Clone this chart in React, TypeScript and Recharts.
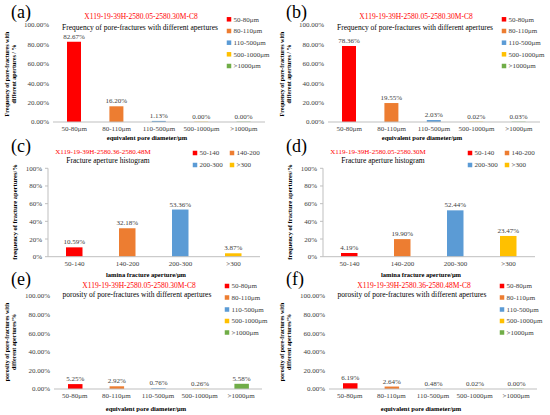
import { BarChart, Bar, XAxis, YAxis, Cell, LabelList } from 'recharts';

const poreCats = ['50-80μm', '80-110μm', '110-500μm', '500-1000μm', '>1000μm'];
const poreColors = ['#FF0000', '#ED7D31', '#5B9BD5', '#FFC000', '#70AD47'];
const lamCats = ['50-140', '140-200', '200-300', '>300'];
const lamColors = ['#FF0000', '#ED7D31', '#5B9BD5', '#FFC000'];

const freqA = [82.67, 16.2, 1.13, 0.0, 0.0];
const freqB = [78.36, 19.55, 2.03, 0.02, 0.03];
const lamC = [10.59, 32.18, 53.36, 3.87];
const lamD = [4.19, 19.9, 52.44, 23.47];
const poroE = [5.25, 2.92, 0.76, 0.26, 5.58];
const poroF = [6.19, 2.64, 0.48, 0.02, 0.0];

const yTicks = [0, 20, 40, 60, 80, 100];

const serif = "'Liberation Serif', 'Times New Roman', serif";
const tickColor = '#404040';
const axisColor = '#bfbfbf';

type PanelProps = {
  ox: number;
  oy: number;
  h: number;
  plot: { left: number; right: number; top: number; bottom: number };
  cats: string[];
  colors: string[];
  values: number[];
  yDecimals: number;
  barSize: number;
  yLine: boolean;
};

function Panel({ ox, oy, h, plot, cats, colors, values, yDecimals, barSize, yLine }: PanelProps) {
  const data = cats.map((c, i) => ({ name: c, value: values[i] }));
  const xH = 12;
  const margin = {
    top: plot.top,
    right: 275 - plot.right,
    left: 0,
    bottom: h - xH - plot.bottom,
  };
  // boundary ticks between categories, Excel style
  const boundaries = cats.map((_, i) => i).concat(cats.length);
  return (
    <div style={{ position: 'absolute', left: ox, top: oy, fontFamily: serif }}>
      <BarChart width={275} height={h} data={data} margin={margin} style={{ fontFamily: serif }}>
        <XAxis
          xAxisId="edges"
          type="number"
          domain={[0, cats.length]}
          ticks={boundaries}
          interval={0}
          height={0}
          axisLine={false}
          tickLine={{ stroke: axisColor }}
          tickSize={3}
          tickFormatter={() => ''}
          allowDataOverflow
        />
        <XAxis
          dataKey="name"
          interval={0}
          height={xH}
          tickLine={false}
          tickSize={0}
          tickMargin={4}
          axisLine={{ stroke: axisColor }}
          tick={{ fontSize: 7, fill: tickColor, fontFamily: serif }}
        />
        <YAxis
          width={plot.left}
          domain={[0, 100]}
          ticks={yTicks}
          interval={0}
          tickFormatter={(v: number) => `${v.toFixed(yDecimals)}%`}
          axisLine={yLine ? { stroke: axisColor } : false}
          tickLine={yLine ? { stroke: axisColor } : false}
          tickSize={yLine ? 3 : 0}
          tickMargin={yLine ? 3 : 4}
          tick={{ fontSize: 7, fill: tickColor, fontFamily: serif }}
        />
        <Bar dataKey="value" barSize={barSize} minPointSize={0.3} isAnimationActive={false}>
          {data.map((d, i) => (
            <Cell key={d.name} fill={colors[i]} />
          ))}
          <LabelList
            dataKey="value"
            position="top"
            offset={3}
            formatter={(v: any) => `${Number(v).toFixed(2)}%`}
            fontSize={7}
            fill={tickColor}
            fontFamily={serif}
          />
        </Bar>
      </BarChart>
    </div>
  );
}

type TextsProps = {
  ox: number;
  oy: number;
  letter: string;
  letterY: number;
  title: string;
  titleX: number;
  titleY: number;
  titleSize: number;
  sub: string;
  subX: number;
  subY: number;
  yLabel: string[];
  yLabelX: number[];
  yLabelY: number;
  yLabelSize: number;
  xLabel: string;
  xLabelX: number;
  xLabelY: number;
  legendItems: { name: string; color: string; x: number; y: number }[];
};

function Texts(p: TextsProps) {
  const { ox, oy } = p;
  return (
    <g fontFamily={serif}>
      <text x={ox + 11} y={oy + p.letterY} fontSize={18} fill="#000">
        {p.letter}
      </text>
      <text x={ox + p.titleX} y={oy + p.titleY} fontSize={p.titleSize} fill="#FF0000" textAnchor="middle">
        {p.title}
      </text>
      <text x={ox + p.subX} y={oy + p.subY} fontSize={7.5} fill="#000" textAnchor="middle">
        {p.sub}
      </text>
      {p.yLabel.map((line, i) => (
        <text
          key={line}
          x={ox + p.yLabelX[i]}
          y={oy + p.yLabelY}
          transform={`rotate(-90 ${ox + p.yLabelX[i]} ${oy + p.yLabelY})`}
          fontSize={p.yLabelSize}
          fontWeight="bold"
          fill="#000"
          textAnchor="middle"
        >
          {line}
        </text>
      ))}
      <text x={ox + p.xLabelX} y={oy + p.xLabelY} fontSize={6.5} fontWeight="bold" fill="#000" textAnchor="middle">
        {p.xLabel}
      </text>
      {p.legendItems.map((it) => (
        <g key={it.name}>
          <rect x={ox + it.x - 2.25} y={oy + it.y - 2.25} width={4.5} height={4.5} fill={it.color} />
          <text x={ox + it.x + 4.5} y={oy + it.y + 2.4} fontSize={7} fill={tickColor}>
            {it.name}
          </text>
        </g>
      ))}
    </g>
  );
}

const poreLegendY1 = [19.3, 31, 42.7, 54.3, 66];
const poreLegendY3 = [6, 17.5, 29.5, 41, 52.5];
const lamLegendPos = [
  { x: 195, y: 18 },
  { x: 232, y: 18 },
  { x: 195, y: 30 },
  { x: 232, y: 30 },
];

const poreLegend = (xs: number, ys: number[]) =>
  poreCats.map((c, i) => ({ name: c, color: poreColors[i], x: xs, y: ys[i] }));
const lamLegend = lamCats.map((c, i) => ({ name: c, color: lamColors[i], ...lamLegendPos[i] }));

const row1Plot = { left: 53, right: 265, top: 25, bottom: 122 };
const row2Plot = { left: 48, right: 260, top: 33.3, bottom: 121.7 };
const row3Plot = { left: 54, right: 262, top: 15.7, bottom: 109 };

export default function App() {
  return (
    <div style={{ position: 'absolute', left: 0, top: 0, width: 550, height: 415, background: '#fff', fontFamily: serif }}>
      <Panel ox={0} oy={0} h={135} plot={row1Plot} cats={poreCats} colors={poreColors} values={freqA} yDecimals={2} barSize={14} yLine={false} />
      <Panel ox={275} oy={0} h={135} plot={row1Plot} cats={poreCats} colors={poreColors} values={freqB} yDecimals={2} barSize={14} yLine={false} />
      <Panel ox={0} oy={135} h={145} plot={row2Plot} cats={lamCats} colors={lamColors} values={lamC} yDecimals={0} barSize={16.5} yLine />
      <Panel ox={275} oy={135} h={145} plot={row2Plot} cats={lamCats} colors={lamColors} values={lamD} yDecimals={0} barSize={16.5} yLine />
      <Panel ox={0} oy={280} h={135} plot={row3Plot} cats={poreCats} colors={poreColors} values={poroE} yDecimals={2} barSize={14.5} yLine={false} />
      <Panel ox={275} oy={280} h={135} plot={row3Plot} cats={poreCats} colors={poreColors} values={poroF} yDecimals={2} barSize={14.5} yLine={false} />
      <svg
        width={550}
        height={415}
        style={{ position: 'absolute', left: 0, top: 0, pointerEvents: 'none', overflow: 'visible' }}
      >
        {[
          { ox: 0, letter: '(a)', title: 'X119-19-39H-2580.05-2580.30M-C8' },
          { ox: 275, letter: '(b)', title: 'X119-19-39H-2580.05-2580.30M-C8' },
        ].map((r) => (
          <Texts
            key={r.letter}
            ox={r.ox}
            oy={0}
            letter={r.letter}
            letterY={18}
            title={r.title}
            titleX={141}
            titleY={18.5}
            titleSize={7.5}
            sub="Frequency of pore-fractures with different apertures"
            subX={140}
            subY={29.5}
            yLabel={['Frequency of pore-fractures with', 'different apertures / %']}
            yLabelX={[9, 15.5]}
            yLabelY={74}
            yLabelSize={6}
            xLabel="equivalent pore diameter/μm"
            xLabelX={147}
            xLabelY={139.5}
            legendItems={poreLegend(229, poreLegendY1)}
          />
        ))}
        {[
          { ox: 0, letter: '(c)', title: 'X119-19-39H-2580.36-2580.48M' },
          { ox: 275, letter: '(d)', title: 'X119-19-39H-2580.05-2580.30M' },
        ].map((r) => (
          <Texts
            key={r.letter}
            ox={r.ox}
            oy={135}
            letter={r.letter}
            letterY={17}
            title={r.title}
            titleX={103}
            titleY={18.5}
            titleSize={7}
            sub="Fracture aperture histogram"
            subX={108}
            subY={27.5}
            yLabel={['frequency of fracture apertures/%']}
            yLabelX={[17]}
            yLabelY={77}
            yLabelSize={6.5}
            xLabel="lamina fracture aperture/μm"
            xLabelX={146}
            xLabelY={142}
            legendItems={lamLegend}
          />
        ))}
        {[
          { ox: 0, letter: '(e)', title: 'X119-19-39H-2580.05-2580.30M-C8' },
          { ox: 275, letter: '(f)', title: 'X119-19-39H-2580.36-2580.48M-C8' },
        ].map((r) => (
          <Texts
            key={r.letter}
            ox={r.ox}
            oy={280}
            letter={r.letter}
            letterY={5}
            title={r.title}
            titleX={139}
            titleY={7.5}
            titleSize={7.5}
            sub="porosity of pore-fractures with different apertures"
            subX={137}
            subY={16.5}
            yLabel={['porosity of pore-fractures with', 'different apertures/%']}
            yLabelX={[9, 15.5]}
            yLabelY={62}
            yLabelSize={6}
            xLabel="equivalent pore diameter/μm"
            xLabelX={146}
            xLabelY={130.5}
            legendItems={poreLegend(227, poreLegendY3)}
          />
        ))}
      </svg>
    </div>
  );
}
